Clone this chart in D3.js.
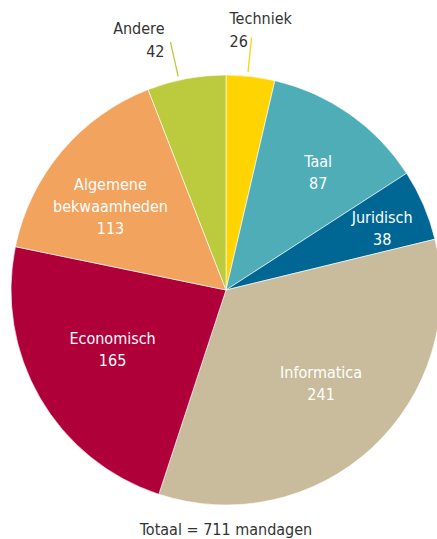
<!DOCTYPE html>
<html>
<head>
<meta charset="utf-8">
<script src="https://cdn.jsdelivr.net/npm/d3@7"></script>
<style>
  html, body { margin: 0; padding: 0; background: #fff; }
  svg { display: block; }
  text { font-family: "Liberation Sans Narrow", "DejaVu Sans Condensed", "Open Sans", sans-serif; font-size: 16px; }
</style>
</head>
<body>
<svg id="chart" width="437" height="539"></svg>
<script>
// Mandagen per opleidingsdomein
const categories = ["Techniek", "Taal", "Juridisch", "Informatica", "Economisch", "Algemene bekwaamheden", "Andere"];
const values = [26, 87, 38, 241, 165, 113, 42];
const colors = ["#FFD400", "#4FADB8", "#006795", "#C9BC9C", "#B0003A", "#F2A35E", "#BCCA3E"];
const totalLabel = "Totaal = 711 mandagen";

const width = 437, height = 539;
const cx = 226, cy = 290, radius = 215;

// label placement: radius from centre and small angular nudge (degrees)
const labelLayout = {
  "Taal": { r: 150, da: 2.8 },
  "Juridisch": { r: 168, da: 1.6 },
  "Informatica": { r: 133, da: -2.9 },
  "Economisch": { r: 128, da: 2.5 },
  "Algemene bekwaamheden": { r: 143, da: -4.1 },
  "Techniek": { da: -0.8 },
  "Andere": { da: -2.0 },
};
const outside = new Set(["Techniek", "Andere"]);

const data = categories.map((c, i) => ({ name: c, value: values[i], color: colors[i] }));

const svg = d3.select("#chart");
const g = svg.append("g").attr("transform", `translate(${cx},${cy})`);

const pie = d3.pie().sort(null).value(d => d.value);
const arc = d3.arc().innerRadius(0).outerRadius(radius);
const arcs = pie(data);

g.selectAll("path.slice")
  .data(arcs)
  .join("path")
  .attr("class", "slice")
  .attr("d", arc)
  .attr("fill", d => d.data.color)
  .attr("stroke", "#fff")
  .attr("stroke-width", 0.6);

const polar = (a, r) => [r * Math.sin(a), -r * Math.cos(a)];
const lineH = 22;

// labels inside the slices
arcs.filter(d => !outside.has(d.data.name)).forEach(d => {
  const L = labelLayout[d.data.name];
  const a = (d.startAngle + d.endAngle) / 2 + L.da * Math.PI / 180;
  const [x, y] = polar(a, L.r);
  const lines = d.data.name.split(" ").concat([String(d.data.value)]);
  const t = g.append("text")
    .attr("text-anchor", "middle")
    .attr("fill", "#fff");
  const y0 = y - (lines.length - 1) * lineH / 2 + 6;
  lines.forEach((s, i) => {
    t.append("tspan").attr("x", x).attr("y", y0 + i * lineH).text(s);
  });
});

// labels outside with leader lines
arcs.filter(d => outside.has(d.data.name)).forEach(d => {
  const L = labelLayout[d.data.name];
  const a = (d.startAngle + d.endAngle) / 2 + L.da * Math.PI / 180;
  const [x1, y1] = polar(a, radius + 4);
  const [x2, y2] = polar(a, radius + 39);
  g.append("line")
    .attr("x1", x1).attr("y1", y1).attr("x2", x2).attr("y2", y2)
    .attr("stroke", d.data.color).attr("stroke-width", 1.3);
  const right = Math.sin(a) > 0;
  const tx = right ? x2 - 22 : x2 - 6;
  const by = right ? y2 - 13 : y2 - 8;
  const t = g.append("text")
    .attr("text-anchor", right ? "start" : "end")
    .attr("fill", "#333");
  t.append("tspan").attr("x", tx).attr("y", by).text(d.data.name);
  t.append("tspan").attr("x", tx).attr("y", by + lineH + 1).text(d.data.value);
});

svg.append("text")
  .attr("x", cx)
  .attr("y", 535)
  .attr("text-anchor", "middle")
  .attr("fill", "#333")
  .text(totalLabel);
</script>
</body>
</html>
